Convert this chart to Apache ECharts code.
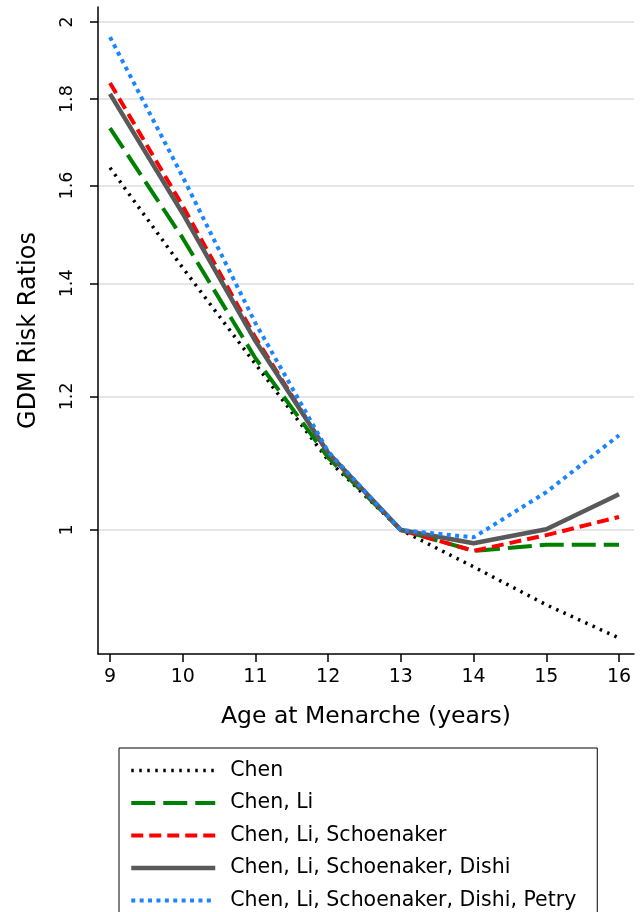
<!DOCTYPE html>
<html>
<head>
<meta charset="utf-8">
<script src="https://cdn.jsdelivr.net/npm/echarts@6/dist/echarts.min.js"></script>
<style>
  html, body { margin: 0; padding: 0; background: #fff; }
  #container { width: 641px; height: 912px; }
</style>
</head>
<body>
<div id="container"></div>
<script>
// age at menarche
var ages = [9, 10, 11, 12, 13, 14, 15, 16];
// risk ratios (log scale)
var chen = [1.639, 1.43, 1.254, 1.10, 1.0, 0.951, 0.903, 0.863];
var chenLi = [1.730, 1.489, 1.264, 1.104, 1.0, 0.972, 0.980, 0.980];
var chenLiSchoen = [1.840, 1.556, 1.30, 1.11, 1.0, 0.972, 0.993, 1.018];
var chenLiSchoenDishi = [1.813, 1.540, 1.294, 1.111, 1.0, 0.982, 1.001, 1.050];
var chenLiSchoenDishiPetry = [1.959, 1.619, 1.326, 1.113, 1.0, 0.990, 1.053, 1.138];
var yTicks = [1, 1.2, 1.4, 1.6, 1.8, 2];

var fonte = "'DejaVu Sans', 'Liberation Sans', sans-serif";

function toLog(arr){
    return arr.map(function(v, i){ return [ages[i], Math.log(v)]; });
}

var dom = document.getElementById("container");
var myChart = echarts.init(dom);

var option = {
    animation: false,
    backgroundColor: '#fff',
    textStyle: { fontFamily: fonte },
    grid: {
        left: 98,
        right: 7,
        top: 7,
        bottom: 258,
        containLabel: false,
        outerBoundsMode: 'none'
    },
    legend: {
        orient: 'vertical',
        left: 119,
        top: 748,
        height: 260,
        padding: [12, 21, 20, 10],
        itemWidth: 84,
        itemHeight: 14,
        itemGap: 11.5,
        borderColor: '#000',
        borderWidth: 1,
        borderRadius: 0,
        itemStyle: { opacity: 0 },
        textStyle: {
            fontFamily: fonte,
            fontSize: 20.5,
            lineHeight: 20,
            color: '#000',
            padding: [0, 0, 0, 10]
        },
        data: [
            { name: 'Chen', lineStyle: { width: 3.5 } },
            { name: 'Chen, Li', lineStyle: { width: 4 } },
            { name: 'Chen, Li, Schoenaker', lineStyle: { width: 4 } },
            { name: 'Chen, Li, Schoenaker, Dishi', lineStyle: { width: 4.5 } },
            { name: 'Chen, Li, Schoenaker, Dishi, Petry', lineStyle: { width: 4 } }
        ]
    },
    xAxis: {
        type: 'value',
        min: 8.835,
        max: 16.206,
        name: 'Age at Menarche (years)',
        nameLocation: 'middle',
        nameGap: 51,
        nameTextStyle: { fontFamily: fonte, fontSize: 23.5, color: '#000' },
        axisLine: { show: true, onZero: false, lineStyle: { color: '#000', width: 1.5 } },
        axisTick: { show: true, length: 8, inside: false, customValues: ages, lineStyle: { color: '#000', width: 1.5 } },
        axisLabel: {
            customValues: ages,
            margin: 13.5,
            fontFamily: fonte,
            fontSize: 19,
            color: '#000'
        },
        splitLine: { show: false }
    },
    yAxis: {
        type: 'value',
        min: Math.log(0.8444),
        max: Math.log(2.041),
        name: 'GDM Risk Ratios',
        nameLocation: 'middle',
        nameRotate: 90,
        nameGap: 57,
        nameTextStyle: { fontFamily: fonte, fontSize: 24, color: '#000' },
        axisLine: { show: true, onZero: false, lineStyle: { color: '#000', width: 1.5 } },
        axisTick: { show: true, length: 8, inside: false, customValues: yTicks.map(Math.log), lineStyle: { color: '#000', width: 1.5 } },
        axisLabel: {
            customValues: yTicks.map(Math.log),
            rotate: 90,
            margin: 22,
            fontFamily: fonte,
            fontSize: 17.5,
            color: '#000',
            formatter: function(v){
                var r = Math.round(Math.exp(v) * 10) / 10;
                return String(r);
            }
        },
        splitLine: { show: true, lineStyle: { color: '#e6e6e6', width: 2 } }
    },
    series: [
        {
            name: 'Chen',
            type: 'line',
            symbol: 'none',
            color: '#000',
            lineStyle: { color: '#000', width: 3.5, type: [2.5, 5.5], cap: 'butt' },
            data: toLog(chen)
        },
        {
            name: 'Chen, Li',
            type: 'line',
            symbol: 'none',
            color: '#008000',
            lineStyle: { color: '#008000', width: 4, type: [24, 8], cap: 'butt' },
            data: toLog(chenLi)
        },
        {
            name: 'Chen, Li, Schoenaker',
            type: 'line',
            symbol: 'none',
            color: '#ff0000',
            lineStyle: { color: '#ff0000', width: 4, type: [12, 6], cap: 'butt' },
            data: toLog(chenLiSchoen)
        },
        {
            name: 'Chen, Li, Schoenaker, Dishi',
            type: 'line',
            symbol: 'none',
            color: '#595959',
            lineStyle: { color: '#595959', width: 4.5, type: 'solid' },
            data: toLog(chenLiSchoenDishi)
        },
        {
            name: 'Chen, Li, Schoenaker, Dishi, Petry',
            type: 'line',
            symbol: 'none',
            color: '#1a85ff',
            lineStyle: { color: '#1a85ff', width: 4, type: [4, 4.4], cap: 'butt' },
            data: toLog(chenLiSchoenDishiPetry)
        }
    ]
};

if (option && typeof option === "object") {
    myChart.setOption(option, true);
}
window.onresize = function() {
    myChart.resize();
};
</script>
</body>
</html>
